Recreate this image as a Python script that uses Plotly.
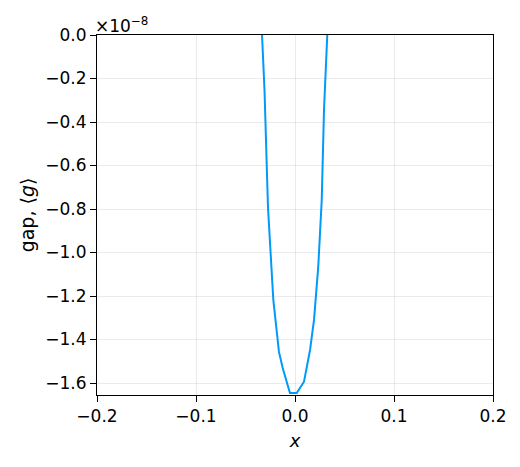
import plotly.graph_objects as go

# data (x, gap values)
x_vals = [-0.0333, -0.0308, -0.0273, -0.0219, -0.0162, -0.0124, -0.0051,
          0.0017, 0.0091, 0.0152, 0.0192, 0.0235, 0.0270, 0.0293, 0.0326]
gap_vals = [0.0, -0.253e-8, -0.791e-8, -1.218e-8, -1.457e-8, -1.531e-8, -1.646e-8,
            -1.646e-8, -1.594e-8, -1.448e-8, -1.310e-8, -1.064e-8, -0.759e-8, -0.345e-8, 0.0]

y_tick_vals = [0.0, -0.2e-8, -0.4e-8, -0.6e-8, -0.8e-8, -1.0e-8, -1.2e-8, -1.4e-8, -1.6e-8]
y_tick_text = ["0.0", "\u22120.2", "\u22120.4", "\u22120.6", "\u22120.8", "\u22121.0",
               "\u22121.2", "\u22121.4", "\u22121.6"]
x_tick_vals = [-0.2, -0.1, 0.0, 0.1, 0.2]
x_tick_text = ["\u22120.2", "\u22120.1", "0.0", "0.1", "0.2"]

fig = go.Figure()
fig.add_trace(go.Scatter(x=x_vals, y=gap_vals, mode="lines",
                         line=dict(color="#009af9", width=2), showlegend=False))

font = "DejaVu Sans"
fig.update_layout(
    width=512, height=459,
    margin=dict(l=89, r=27, t=27, b=72),
    paper_bgcolor="white", plot_bgcolor="white",
    font=dict(family=font, size=17, color="black"),
    xaxis=dict(range=[-0.2, 0.2], tickvals=x_tick_vals, ticktext=x_tick_text,
               automargin=False,
               showgrid=True, gridcolor="rgba(0,0,0,0.08)", gridwidth=1,
               zeroline=False, showline=True, linecolor="black", linewidth=1, mirror=True,
               ticks="outside", ticklen=6, tickcolor="black",
               title=dict(text="<i>x</i>", font=dict(size=18), standoff=8)),
    yaxis=dict(range=[-1.655e-8, 0.0], tickvals=y_tick_vals, ticktext=y_tick_text,
               automargin=False,
               showgrid=True, gridcolor="rgba(0,0,0,0.08)", gridwidth=1,
               zeroline=False, showline=True, linecolor="black", linewidth=1, mirror=True,
               ticks="outside", ticklen=6, tickcolor="black",
               title=dict(text="gap, \u27e8<i>g</i>\u27e9", font=dict(size=19), standoff=5)),
    annotations=[dict(text="\u00d710<sup>\u22128</sup>", xref="paper", yref="paper",
                      x=0, y=1, xanchor="left", yanchor="bottom", showarrow=False,
                      font=dict(size=17), xshift=-4, yshift=-3)],
)
fig.write_html("out.html")
